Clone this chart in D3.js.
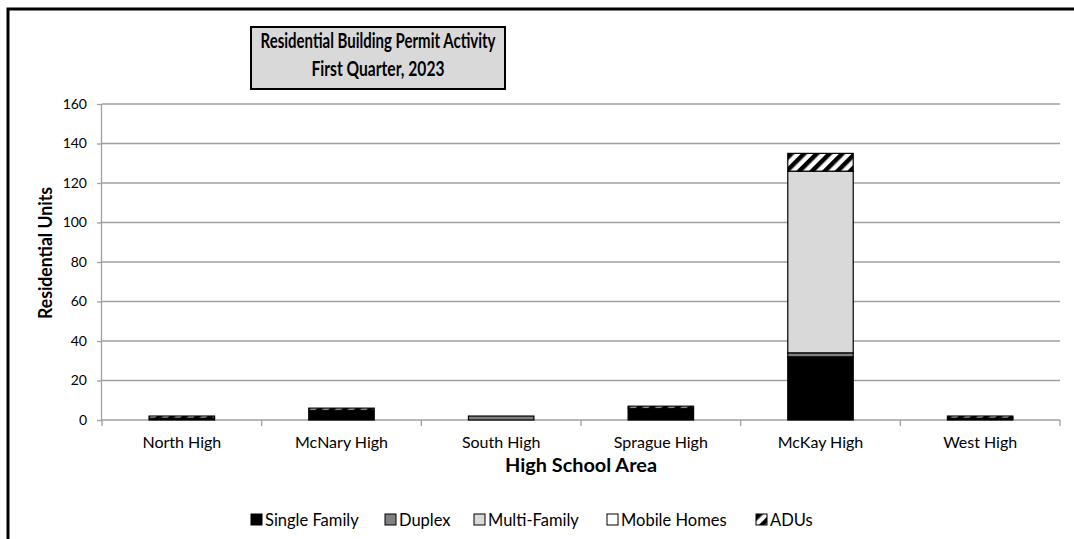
<!DOCTYPE html>
<html><head><meta charset="utf-8">
<script src="https://cdn.jsdelivr.net/npm/d3@7"></script>
<style>
html,body{margin:0;padding:0;background:#fff;}
svg{display:block;font-family:Lato, "Open Sans", sans-serif;}
</style></head>
<body><svg id="c" width="1074" height="539"></svg>
<script>
const categories = ["North High","McNary High","South High","Sprague High","McKay High","West High"];
const singleFamily = [1, 5, 0, 6, 32, 1];
const duplex       = [0, 0, 2, 0, 2, 0];
const multiFamily  = [0, 0, 0, 0, 92, 0];
const mobileHomes  = [0, 0, 0, 0, 0, 0];
const adus         = [1, 1, 0, 1, 9, 1];
const seriesNames  = ["Single Family","Duplex","Multi-Family","Mobile Homes","ADUs"];
const yTicks = [0,20,40,60,80,100,120,140,160];
const titleLines = ["Residential Building Permit Activity","First Quarter, 2023"];

const svg = d3.select("#c");
const defs = svg.append("defs");
const pat = defs.append("pattern").attr("id","adu").attr("patternUnits","userSpaceOnUse")
  .attr("width",9).attr("height",9).attr("patternTransform","rotate(45)");
pat.append("rect").attr("width",9).attr("height",9).attr("fill","#fff");
pat.append("rect").attr("width",4.5).attr("height",9).attr("fill","#000");

const fills = ["#000000","#808080","#d9d9d9","#ffffff","url(#adu)"];

// outer frame
svg.append("rect").attr("x",8).attr("y",9).attr("width",1100).attr("height",600)
  .attr("fill","none").attr("stroke","#000").attr("stroke-width",3);

const pLeft=102, pRight=1060, pTop=104, pBottom=420;
const x = d3.scaleBand().domain(categories).range([pLeft,pRight]).paddingInner(0.59).paddingOuter(0.295);
const y = d3.scaleLinear().domain([0,160]).range([pBottom,pTop]);

// gridlines
svg.append("g").selectAll("line").data(yTicks.filter(d=>d>0)).join("line")
  .attr("x1",pLeft).attr("x2",pRight).attr("y1",d=>y(d)).attr("y2",d=>y(d))
  .attr("stroke","#a0a0a0").attr("stroke-width",1.3);

// y axis
const ya = svg.append("g").attr("transform",`translate(${pLeft},0)`)
  .call(d3.axisLeft(y).tickValues(yTicks).tickSize(5).tickPadding(10));
ya.select(".domain").attr("stroke","#a0a0a0").attr("stroke-width",1.3).attr("d",`M-0.5,${pTop}V${pBottom}`);
ya.selectAll(".tick line").attr("stroke","#a0a0a0").attr("stroke-width",1.3);
ya.selectAll(".tick text").attr("font-size",14).attr("font-family","Lato, sans-serif").attr("fill","#000");

// x axis
const xa = svg.append("g").attr("transform",`translate(0,${pBottom})`);
xa.append("line").attr("x1",pLeft).attr("x2",pRight).attr("y1",0).attr("y2",0)
  .attr("stroke","#a0a0a0").attr("stroke-width",1.3);
const bounds = categories.map(c=>x(c)-x.step()*x.paddingInner()/2).concat([pRight]);
xa.selectAll("line.t").data(bounds).join("line").attr("class","t")
  .attr("x1",d=>d).attr("x2",d=>d).attr("y1",0).attr("y2",6)
  .attr("stroke","#a0a0a0").attr("stroke-width",1.3);
xa.selectAll("text").data(categories).join("text")
  .attr("x",d=>x(d)+x.bandwidth()/2).attr("y",28).attr("text-anchor","middle")
  .attr("font-size",16).text(d=>d);

// stacked bars
const rows = categories.map((c,i)=>({cat:c,"Single Family":singleFamily[i],"Duplex":duplex[i],
  "Multi-Family":multiFamily[i],"Mobile Homes":mobileHomes[i],"ADUs":adus[i]}));
const stacked = d3.stack().keys(seriesNames)(rows);
const bars = svg.append("g");
stacked.forEach((s,si)=>{
  bars.append("g").selectAll("rect").data(s.filter(d=>d[1]-d[0]>0)).join("rect")
    .attr("x",d=>x(d.data.cat)).attr("width",x.bandwidth())
    .attr("y",d=>y(d[1])).attr("height",d=>y(d[0])-y(d[1]))
    .attr("fill",fills[si]).attr("stroke","#000").attr("stroke-width",1.2);
});

// axis titles
svg.append("text").attr("transform",`translate(52,253) rotate(-90)`)
  .attr("text-anchor","middle").attr("font-size",18).attr("font-weight","bold")
  .attr("textLength",132).attr("lengthAdjust","spacingAndGlyphs").text("Residential Units");
svg.append("text").attr("x",(pLeft+pRight)/2).attr("y",472).attr("text-anchor","middle")
  .attr("font-size",18).attr("font-weight","bold")
  .attr("textLength",152).attr("lengthAdjust","spacingAndGlyphs").text("High School Area");

// title box
svg.append("rect").attr("x",251).attr("y",27).attr("width",254).attr("height",62)
  .attr("fill","#d9d9d9").attr("stroke","#000").attr("stroke-width",2);
const tLens = [235,133];
svg.append("g").selectAll("text").data(titleLines).join("text")
  .attr("x",378).attr("y",(d,i)=>48+i*28).attr("text-anchor","middle")
  .attr("font-size",20).attr("font-weight","bold")
  .attr("textLength",(d,i)=>tLens[i]).attr("lengthAdjust","spacingAndGlyphs").text(d=>d);

// legend
const legX = [251,385,474,607,756];
const lg = svg.append("g").attr("transform","translate(0,520)");
seriesNames.forEach((n,i)=>{
  lg.append("rect").attr("x",legX[i]).attr("y",-6).attr("width",11).attr("height",11)
    .attr("fill",fills[i]).attr("stroke","#000").attr("stroke-width",1);
  lg.append("text").attr("x",legX[i]+14).attr("y",6).attr("font-size",16.5).text(n);
});
</script></body></html>
